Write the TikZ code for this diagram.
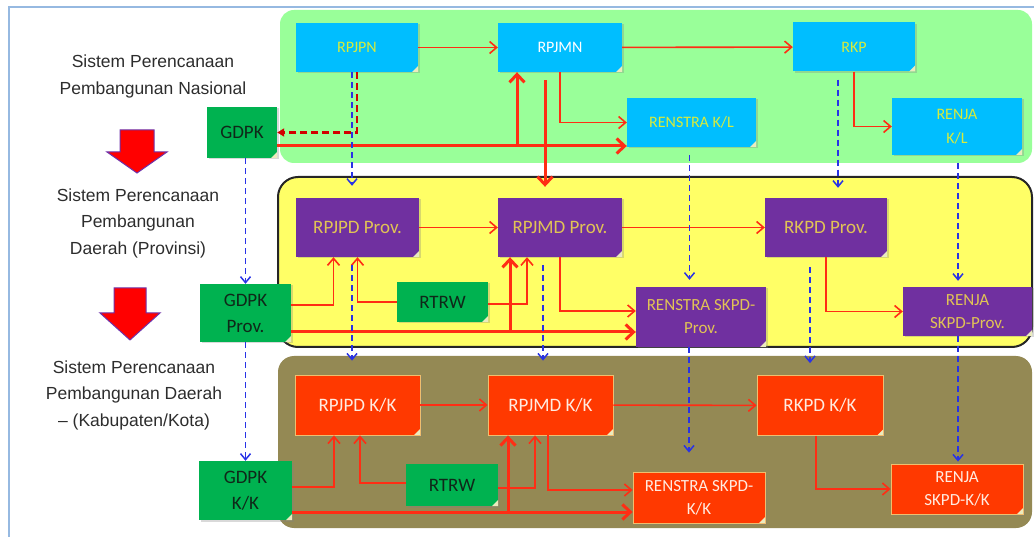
\documentclass[tikz,border=0pt]{standalone}
\usepackage{fontspec}
\setmainfont{Carlito}
\newfontfamily\labelfont{Liberation Sans}
\usetikzlibrary{arrows.meta, calc, shadows}

\definecolor{natpanel}{RGB}{153,255,153}
\definecolor{provpanel}{RGB}{255,255,102}
\definecolor{kkpanel}{RGB}{148,137,84}
\definecolor{natblue}{RGB}{0,190,255}
\definecolor{nattext}{RGB}{215,235,60}
\definecolor{provpurple}{RGB}{112,48,160}
\definecolor{provtext}{RGB}{225,195,85}
\definecolor{kkred}{RGB}{255,57,0}
\definecolor{kkedge}{RGB}{240,190,110}
\definecolor{kktext}{RGB}{255,235,225}
\definecolor{gdgreen}{RGB}{0,178,80}
\definecolor{gdtext}{RGB}{15,40,25}
\definecolor{arrred}{RGB}{255,45,20}
\definecolor{darkred}{RGB}{210,0,0}
\definecolor{dashblue}{RGB}{40,50,230}
\definecolor{labelgray}{RGB}{45,45,45}
\definecolor{fatedge}{RGB}{110,50,170}
\definecolor{framecol}{RGB}{150,185,225}
\definecolor{foldcol}{RGB}{235,235,190}

\begin{document}
\begin{tikzpicture}[
    x=1pt, y=-1pt,
    plan/.style={rectangle, inner sep=2pt, align=center, drop shadow={shadow xshift=1.5pt, shadow yshift=-1.5pt, opacity=0.3},
      path picture={\fill[foldcol] ([xshift=-6pt]path picture bounding box.south east) -- ([yshift=6pt]path picture bounding box.south east) -- (path picture bounding box.south east) -- cycle;}},
    natbox/.style={plan, fill=natblue, text=nattext, font=\fontsize{16}{24}\selectfont},
    provbox/.style={plan, fill=provpurple, text=provtext, font=\fontsize{19}{24}\selectfont},
    kkbox/.style={plan, fill=kkred, draw=kkedge, line width=0.8pt, text=kktext, font=\fontsize{19}{24}\selectfont},
    gdbox/.style={plan, fill=gdgreen, text=gdtext, font=\fontsize{19}{26}\selectfont},
    twoline/.style={font=\fontsize{17}{23}\selectfont},
    redarr/.style={draw=arrred, line width=1.6pt, -{Straight Barb[length=7pt, width=12pt]}},
    thickarr/.style={draw=arrred, line width=3pt, -{Straight Barb[length=8pt, width=15pt]}},
    bluedash/.style={draw=dashblue, line width=1.5pt, dash pattern=on 6pt off 4pt, -{Straight Barb[length=6pt, width=10pt]}},
    reddash/.style={draw=darkred, line width=2.2pt, dash pattern=on 7pt off 4pt, -{Triangle[length=7pt, width=8pt]}},
    syslabel/.style={font=\labelfont\fontsize{17.5}{26.5}\selectfont, text=labelgray, align=center},
    fatarrow/.style={fill=red, draw=fatedge, line width=1pt}
  ]
    \useasboundingbox (0,0) rectangle (1034,537);
    \draw[framecol, line width=2pt] (9,537) -- (9,7) -- (1034,7);

    % --- Panels ---
    \fill[natpanel, rounded corners=14pt] (280,10) rectangle (1032,163);
    \filldraw[fill=provpanel, draw=black!85, line width=2pt, rounded corners=20pt] (278,177) rectangle (1032,347);
    \fill[kkpanel, rounded corners=16pt] (278,356) rectangle (1032,528);

    % --- Left labels ---
    \node[syslabel] (nasional) at (153,76.5) {Sistem Perencanaan\\Pembangunan Nasional};
    \node[syslabel] (provinsi) at (138,223) {Sistem Perencanaan\\Pembangunan\\Daerah (Provinsi)};
    \node[syslabel] (kabkota) at (134,395) {Sistem Perencanaan\\Pembangunan Daerah\\– (Kabupaten/Kota)};
    \filldraw[fatarrow] (120,130) -- (154,130) -- (154,152) -- (167,152) -- (137,173) -- (107,152) -- (120,152) -- cycle;
    \filldraw[fatarrow] (114,288) -- (146,288) -- (146,313) -- (160,313) -- (130,340) -- (100,313) -- (114,313) -- cycle;

    % --- Nasional (Blue) ---
    \node[natbox, minimum width=122, minimum height=49] (rpjpn) at (357,47.5) {RPJPN};
    \node[natbox, text=white, minimum width=124, minimum height=49] (rpjmn) at (560,47.5) {RPJMN};
    \node[natbox, minimum width=122, minimum height=49] (rkp) at (854,47) {RKP};
    \node[natbox, minimum width=129, minimum height=49] (renstrakl) at (691.5,122.5) {RENSTRA K/L};
    \node[natbox, minimum width=130, minimum height=57] (renjakl) at (957,126.5) {RENJA\\K/L};
    \node[gdbox, minimum width=70, minimum height=51] (gdpk) at (242,132.5) {GDPK};

    % --- Provinsi (Purple) ---
    \node[provbox, minimum width=123, minimum height=59] (rpjpdp) at (357.5,227.5) {RPJPD Prov.};
    \node[provbox, minimum width=124, minimum height=59] (rpjmdp) at (560,227.5) {RPJMD Prov.};
    \node[provbox, minimum width=122, minimum height=59] (rkpdp) at (826,227.5) {RKPD Prov.};
    \node[provbox, twoline, minimum width=130, minimum height=60] (renstrap) at (701,317) {RENSTRA SKPD-\\Prov.};
    \node[provbox, twoline, minimum width=129, minimum height=49] (renjap) at (967.5,311.5) {RENJA\\SKPD-Prov.};
    \node[gdbox, minimum width=91, minimum height=58] (gdpkp) at (245.5,313) {GDPK\\Prov.};
    \node[gdbox, minimum width=91, minimum height=40] (rtrwp) at (442.5,302) {RTRW};

    % --- Kabupaten/Kota (Orange) ---
    \node[kkbox, minimum width=125, minimum height=60] (rpjpdk) at (357.5,405) {RPJPD K/K};
    \node[kkbox, minimum width=125, minimum height=60] (rpjmdk) at (550.5,405) {RPJMD K/K};
    \node[kkbox, minimum width=126, minimum height=60] (rkpdk) at (820,405.5) {RKPD K/K};
    \node[kkbox, twoline, minimum width=132, minimum height=51] (renstrak) at (699,497.5) {RENSTRA SKPD-\\K/K};
    \node[kkbox, twoline, minimum width=132, minimum height=50] (renjak) at (957,489) {RENJA\\SKPD-K/K};
    \node[gdbox, minimum width=93, minimum height=59] (gdpkk) at (245.5,490.5) {GDPK\\K/K};
    \node[gdbox, minimum width=92, minimum height=42] (rtrwk) at (452,485) {RTRW};

    % --- Junctions ---
    \coordinate (g0) at ($(gdpk.east)+(0,13.5)$);
    \coordinate (jn) at ($(rpjmn.south)+(-43,0)$);
    \coordinate (g1) at ($(gdpkp.east)+(0,19)$);
    \coordinate (jp) at ($(rpjmdp.south)+(-50,0)$);
    \coordinate (g2) at ($(gdpkk.east)+(0,21.5)$);
    \coordinate (jk) at ($(rpjmdk.south)+(-42.5,0)$);

    % --- Arrows: Nasional ---
    \draw[redarr] (rpjpn) -- (rpjmn);
    \draw[redarr] (rpjmn) -- (rkp);
    \draw[redarr] (rkp.south) |- (renjakl.west);
    \draw[redarr] (rpjmn.south) |- (renstrakl.west);
    \draw[reddash] (rpjpn.south) |- (gdpk.east);
    \draw[thickarr] (g0) -- (g0 -| renstrakl.west);
    \draw[thickarr] (g0 -| jn) -- (jn);
    \draw[thickarr] ($(rpjmn.south)+(-15,8)$) -- ($(rpjmdp.north)+(-15,-11)$);

    % --- Arrows: Provinsi ---
    \draw[redarr] (rpjpdp) -- (rpjmdp);
    \draw[redarr] (rpjmdp) -- (rkpdp);
    \draw[redarr] (rkpdp.south) |- (renjap.west);
    \draw[redarr] (rpjmdp.south) |- ($(renstrap.west)+(0,-6)$);
    \draw[redarr] ($(gdpkp.east)+(0,-8)$) -| ($(rpjpdp.south)+(-24,0)$);
    \draw[thickarr] (g1) -- (g1 -| renstrap.west);
    \draw[thickarr] (g1 -| jp) -- (jp);
    \draw[redarr] (rtrwp.west) -| (rpjpdp.south);
    \draw[redarr] ($(rtrwp.east)+(0,2)$) -| ($(rpjmdp.south)+(-33,0)$);

    % --- Arrows: Kabupaten/Kota ---
    \draw[redarr] (rpjpdk) -- (rpjmdk);
    \draw[redarr] (rpjmdk) -- (rkpdk);
    \draw[redarr] ($(rkpdk.south)+(-4,0)$) |- (renjak.west);
    \draw[redarr] ($(rpjmdk.south)+(-2.5,0)$) |- ($(renstrak.west)+(0,-7.5)$);
    \draw[redarr] ($(gdpkk.east)+(0,-3.5)$) -| ($(rpjpdk.south)+(-23.5,0)$);
    \draw[thickarr] (g2) -- (g2 -| renstrak.west);
    \draw[thickarr] (g2 -| jk) -- (jk);
    \draw[redarr] ($(rtrwk.west)+(0,-2)$) -| ($(rpjpdk.south)+(2.5,0)$);
    \draw[redarr] ($(rtrwk.east)+(0,3)$) -| ($(rpjmdk.south)+(-15.5,0)$);

    % --- Dashed links between levels ---
    \draw[bluedash] ($(rpjpn.south)+(-5,0)$) -- ($(rpjpdp.north)+(-5.5,-12)$);
    \draw[bluedash] (gdpk.south -| gdpkp.north) -- (gdpkp.north);
    \draw[bluedash] ($(renstrakl.south)+(-2,8)$) -- ($(renstrap.north)+(-11.5,-7)$);
    \draw[bluedash] ($(rkp.south)+(-16,8)$) -- ($(rkpdp.north)+(12,-10)$);
    \draw[bluedash] ($(renjakl.south)+(1,8)$) -- ($(renjap.north)+(-9.5,-6)$);

    \draw[bluedash] ($(rpjpdp.south)+(-5.5,8)$) -- ($(rpjpdk.north)+(-5.5,-14)$);
    \draw[bluedash] ($(rpjmdp.south)+(-17,8)$) -- ($(rpjmdk.north)+(-7.5,-14)$);
    \draw[bluedash] ($(renstrap.south)+(-12,0)$) -- ($(renstrak.north)+(-10,-19)$);
    \draw[bluedash] ($(rkpdp.south)+(-16,10)$) -- ($(rkpdk.north)+(-10,-12)$);
    \draw[bluedash] ($(renjap.south)+(-9.5,0)$) -- ($(renjak.north)+(1,-2)$);
    \draw[bluedash] (gdpkp.south -| gdpkk.north) -- (gdpkk.north);

  \end{tikzpicture}
\end{document}
